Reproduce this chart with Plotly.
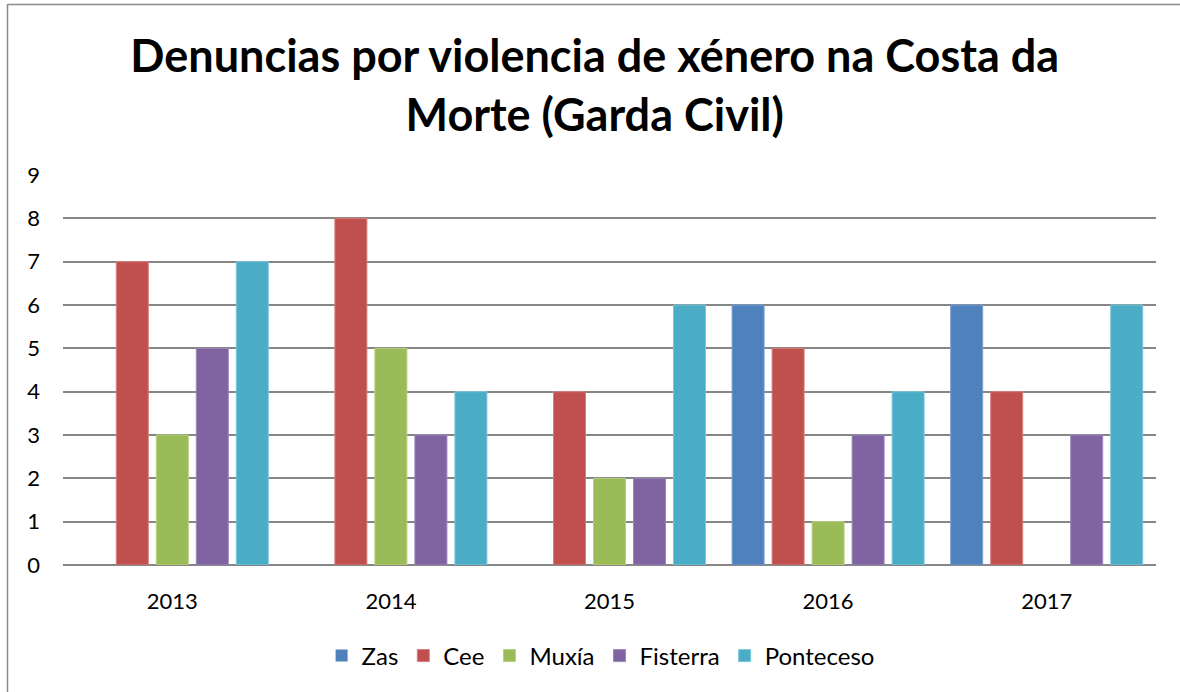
import plotly.graph_objects as go

years = ["2013", "2014", "2015", "2016", "2017"]
series_names = ["Zas", "Cee", "Muxía", "Fisterra", "Ponteceso"]
zas = [0, 0, 0, 6, 6]
cee = [7, 8, 4, 5, 4]
muxia = [3, 5, 2, 1, 0]
fisterra = [5, 3, 2, 3, 3]
ponteceso = [7, 4, 6, 4, 6]
colors = ["#4F81BD", "#C0504D", "#9BBB59", "#8064A2", "#4BACC6"]
edge_colors = ["#7A9FD0", "#D67F7C", "#B6D07F", "#9C86BA", "#7CC6DA"]
y_ticks = list(range(0, 10))

FONT = "Lato"
W, H = 1180, 692
L, R, T, B = 63, 24, 175, 127

fig = go.Figure()
for name, vals, c, ec in zip(series_names, [zas, cee, muxia, fisterra, ponteceso], colors, edge_colors):
    fig.add_trace(go.Bar(
        x=years, y=vals, name=name,
        marker=dict(color=c, line=dict(color=ec, width=[1 if v > 0 else 0 for v in vals])),
    ))

pw = W - L - R
ph = H - T - B
fig.update_layout(
    width=W, height=H,
    margin=dict(l=L, r=R, t=T, b=B),
    paper_bgcolor="white", plot_bgcolor="white",
    barmode="group", bargap=0.085, bargroupgap=0.2,
    title=dict(
        text="Denuncias por violencia de xénero na Costa da<br>Morte (Garda Civil)",
        font=dict(family=FONT, size=45, color="black", weight="bold"),
        x=0.504, xanchor="center", xref="container",
        y=1 - 72 / H, yanchor="middle", yref="container",
    ),
    font=dict(family=FONT, color="black"),
    xaxis=dict(
        showgrid=False, showline=False, zeroline=False,
        tickfont=dict(size=22, family=FONT, color="black"),
        ticklabelstandoff=21,
    ),
    yaxis=dict(
        range=[0, 9], tickvals=y_ticks, showgrid=True,
        gridcolor="#868686", gridwidth=1.6,
        zeroline=True, zerolinecolor="#868686", zerolinewidth=1.6,
        showline=False,
        tickfont=dict(size=22, family=FONT, color="black"),
        ticklabelstandoff=22,
    ),
    legend=dict(
        orientation="h", x=0.509, xanchor="center", xref="container",
        y=1 - 656 / H, yanchor="middle", yref="container",
        font=dict(size=24, family=FONT, color="black"),
        itemwidth=30, traceorder="normal",
    ),
    showlegend=True,
    shapes=[
        dict(type="line", xref="paper", yref="paper",
             x0=(7.5 - L) / pw, x1=(7.5 - L) / pw, y0=(H - B - 4) / ph, y1=(H - B - 700) / ph,
             line=dict(color="#8C8C8C", width=1.5)),
        dict(type="line", xref="paper", yref="paper",
             x0=(7.5 - L) / pw, x1=(1200 - L) / pw, y0=(H - B - 4.5) / ph, y1=(H - B - 4.5) / ph,
             line=dict(color="#8C8C8C", width=1.5)),
    ],
)

fig.write_html("out.html", config={"displayModeBar": False},
               post_script="document.body.style.margin='0';")
